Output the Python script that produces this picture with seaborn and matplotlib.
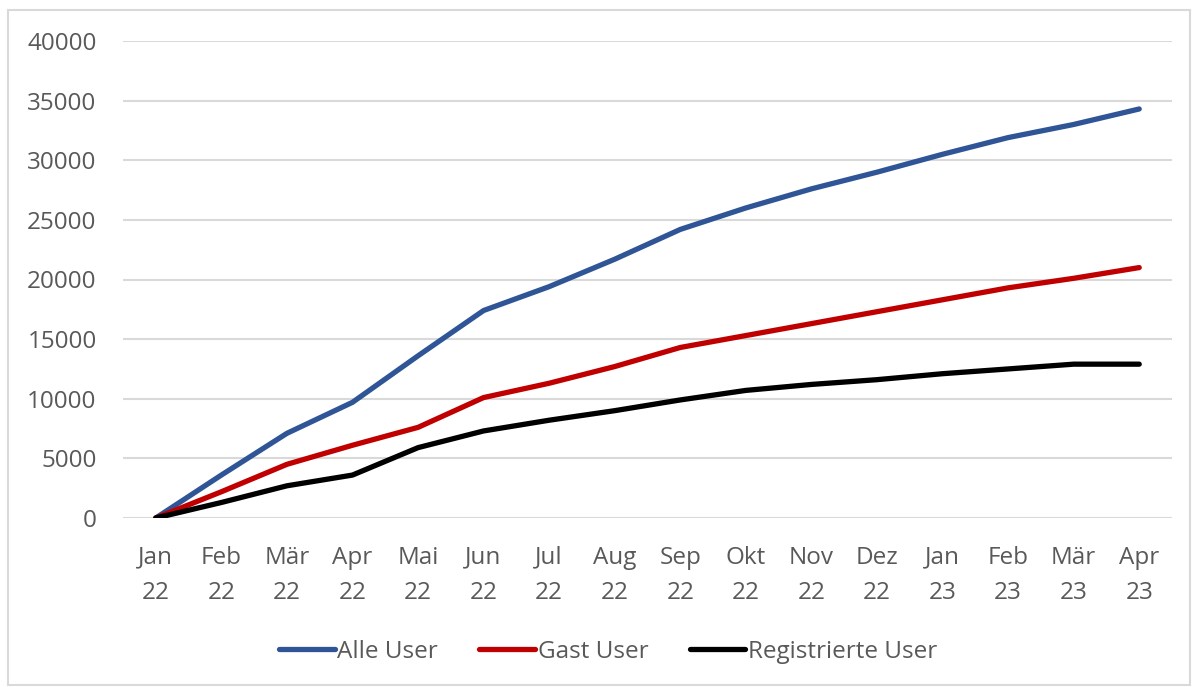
import matplotlib
matplotlib.use("Agg")
import matplotlib.pyplot as plt
import seaborn as sns
import pandas as pd
from matplotlib.patches import Rectangle

# monthly cumulative user counts
months = ["Jan\n22", "Feb\n22", "Mär\n22", "Apr\n22", "Mai\n22", "Jun\n22", "Jul\n22", "Aug\n22",
          "Sep\n22", "Okt\n22", "Nov\n22", "Dez\n22", "Jan\n23", "Feb\n23", "Mär\n23", "Apr\n23"]
alle_user = [0, 3600, 7100, 9700, 13600, 17400, 19400, 21700,
             24200, 26000, 27600, 29000, 30500, 31900, 33000, 34300]
gast_user = [0, 2200, 4500, 6100, 7600, 10100, 11300, 12700,
             14300, 15300, 16300, 17300, 18300, 19300, 20100, 21000]
registrierte_user = [0, 1300, 2700, 3600, 5900, 7300, 8200, 9000,
                     9900, 10700, 11200, 11600, 12100, 12500, 12900, 12900]
series_names = ["Alle User", "Gast User", "Registrierte User"]
colors = ["#2F5597", "#C00000", "#000000"]

df = pd.DataFrame({"Monat": months * 3,
                   "User": alle_user + gast_user + registrierte_user,
                   "Serie": [s for s in series_names for _ in months]})

sns.set_theme(style="white")
plt.rcParams['font.family'] = ['Open Sans', 'DejaVu Sans']
text_color = "#595959"

fig = plt.figure(figsize=(11.92, 6.87), dpi=100)
ax = fig.add_axes([123 / 1192, 1 - 518 / 687, (1172 - 123) / 1192, (518 - 41) / 687])

sns.lineplot(data=df, x="Monat", y="User", hue="Serie", palette=colors,
             linewidth=3.8, sort=False, ax=ax, legend=True,
             solid_capstyle="round", solid_joinstyle="round")

ax.set_xlim(-0.5, len(months) - 0.5)
ax.set_ylim(0, 40000)
ax.set_yticks(range(0, 40001, 5000))
ax.yaxis.grid(True, color="#D9D9D9", linewidth=1.5)
ax.set_axisbelow(True)
for s in ax.spines.values():
    s.set_visible(False)
ax.set_xlabel("")
ax.set_ylabel("")
ax.tick_params(axis="y", length=0, pad=19, labelsize=17.5, labelcolor=text_color)
ax.tick_params(axis="x", length=0, pad=20, labelsize=17.5, labelcolor=text_color)
for lbl in ax.get_xticklabels():
    lbl.set_linespacing(1.65)

ax.legend(loc="center", bbox_to_anchor=(0.5 + 12 / 1192, (687 - 652) / 687), bbox_transform=fig.transFigure,
          ncol=3, frameon=False, fontsize=17.5, labelcolor=text_color,
          handlelength=2.3, handletextpad=0.1, columnspacing=1.7)

fig.patches.append(Rectangle((8 / 1192, 2 / 687), 1182 / 1192, 675 / 687, transform=fig.transFigure,
                             fill=False, edgecolor="#D9D9D9", linewidth=1.5))

fig.savefig("out.png", dpi=100)
